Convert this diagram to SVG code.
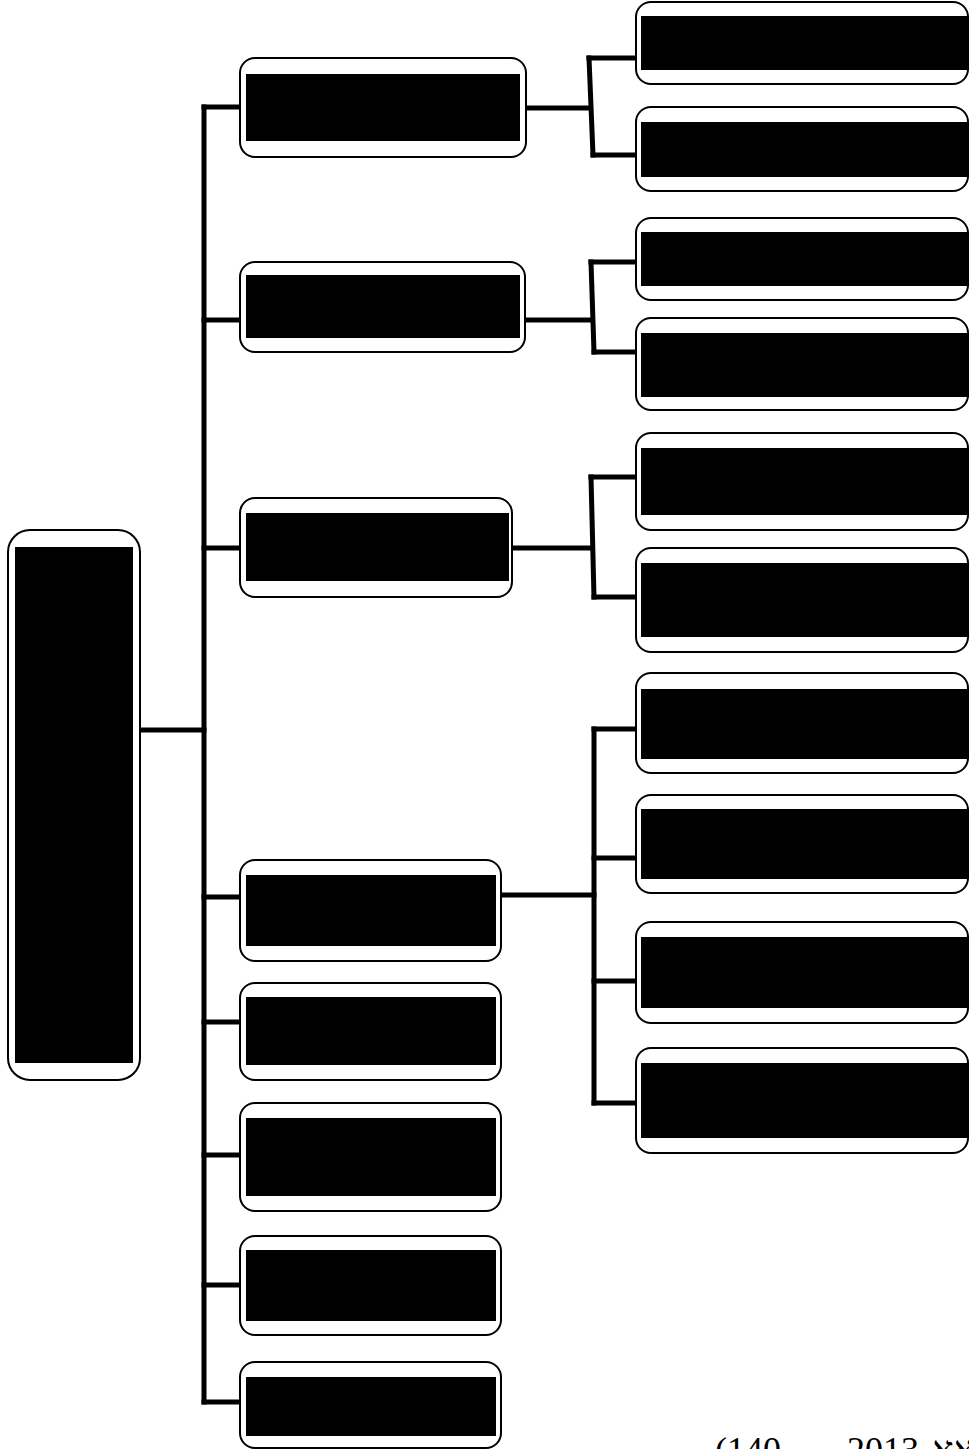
<svg xmlns="http://www.w3.org/2000/svg" width="969" height="1449" viewBox="0 0 969 1449">
<style>
.box{fill:#fff;stroke:#000;stroke-width:2}
.blk{fill:#000}
.con{fill:none;stroke:#000;stroke-width:5;stroke-linecap:square;stroke-linejoin:miter}
.cap{font-family:"Liberation Serif","Noto Sans",serif;font-size:36px;fill:#000}
</style>
<rect width="969" height="1449" fill="#fff"/>
<g id="connectors">
<path class="con" d="M140 730 H204"/>
<path class="con" d="M204 107 V1402"/>
<path class="con" d="M204 107 H240 M204 320 H240 M204 548 H240 M204 897 H240 M204 1022 H240 M204 1155 H240 M204 1285 H240 M204 1402 H240"/>
<path class="con" d="M527 108 H590"/>
<path class="con" d="M589 58 L593 155"/>
<path class="con" d="M589 58 H636 M593 155 H636"/>
<path class="con" d="M525 320 H592"/>
<path class="con" d="M591 262 L594 352"/>
<path class="con" d="M591 262 H636 M594 352 H636"/>
<path class="con" d="M512 548 H592"/>
<path class="con" d="M591 477 L594 597"/>
<path class="con" d="M591 477 H636 M594 597 H636"/>
<path class="con" d="M500 895 H594"/>
<path class="con" d="M594 729 V1103"/>
<path class="con" d="M594 729 H636 M594 858 H636 M594 981 H636 M594 1103 H636"/>
</g>
<g id="root"><rect class="box" x="8" y="530" width="132" height="550" rx="22"/><rect class="blk" x="15" y="547" width="118" height="516"/></g>
<g id="n1"><rect class="box" x="240" y="58" width="286" height="99" rx="15"/><rect class="blk" x="246" y="74" width="274" height="67"/></g>
<g id="n2"><rect class="box" x="240" y="262" width="285" height="90" rx="15"/><rect class="blk" x="246" y="275" width="274" height="63"/></g>
<g id="n3"><rect class="box" x="240" y="498" width="272" height="99" rx="15"/><rect class="blk" x="246" y="513" width="263" height="68"/></g>
<g id="n4"><rect class="box" x="240" y="860" width="261" height="101" rx="15"/><rect class="blk" x="246" y="875" width="250" height="71"/></g>
<g id="n5"><rect class="box" x="240" y="983" width="261" height="97" rx="15"/><rect class="blk" x="246" y="997" width="250" height="68"/></g>
<g id="n6"><rect class="box" x="240" y="1103" width="261" height="108" rx="15"/><rect class="blk" x="246" y="1118" width="250" height="78"/></g>
<g id="n7"><rect class="box" x="240" y="1236" width="261" height="99" rx="15"/><rect class="blk" x="246" y="1250" width="250" height="71"/></g>
<g id="n8"><rect class="box" x="240" y="1362" width="261" height="86" rx="15"/><rect class="blk" x="246" y="1377" width="250" height="59"/></g>
<g id="a1"><rect class="box" x="636" y="2" width="332" height="82" rx="15"/><rect class="blk" x="641" y="16" width="328" height="54"/></g>
<g id="a2"><rect class="box" x="636" y="107" width="332" height="84" rx="15"/><rect class="blk" x="641" y="122" width="328" height="55"/></g>
<g id="b1"><rect class="box" x="636" y="218" width="332" height="82" rx="15"/><rect class="blk" x="641" y="232" width="328" height="54"/></g>
<g id="b2"><rect class="box" x="636" y="318" width="332" height="92" rx="15"/><rect class="blk" x="641" y="333" width="328" height="64"/></g>
<g id="c1"><rect class="box" x="636" y="433" width="332" height="97" rx="15"/><rect class="blk" x="641" y="448" width="328" height="67"/></g>
<g id="c2"><rect class="box" x="636" y="548" width="332" height="104" rx="15"/><rect class="blk" x="641" y="563" width="328" height="74"/></g>
<g id="d1"><rect class="box" x="636" y="673" width="332" height="100" rx="15"/><rect class="blk" x="641" y="689" width="328" height="70"/></g>
<g id="d2"><rect class="box" x="636" y="795" width="332" height="98" rx="15"/><rect class="blk" x="641" y="809" width="328" height="70"/></g>
<g id="d3"><rect class="box" x="636" y="922" width="332" height="101" rx="15"/><rect class="blk" x="641" y="937" width="328" height="71"/></g>
<g id="d4"><rect class="box" x="636" y="1048" width="332" height="105" rx="15"/><rect class="blk" x="641" y="1063" width="328" height="75"/></g>
<g id="caption"><text class="cap" x="715" y="1462">(140</text><text class="cap" x="847" y="1462">2013</text><text class="cap" x="932" y="1462" direction="rtl" text-anchor="end" unicode-bidi="embed">אא</text></g>
</svg>
